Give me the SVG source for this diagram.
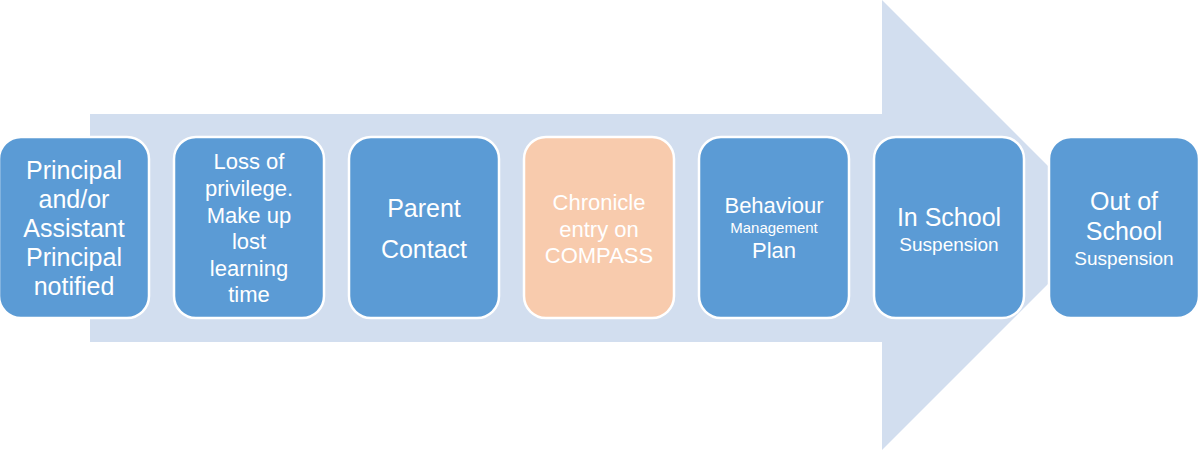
<svg xmlns="http://www.w3.org/2000/svg" width="1201" height="450" viewBox="0 0 1201 450">
<style>
.box{fill:#5B9BD5;stroke:#FFFFFF;stroke-width:2.5}
.hl{fill:#F8CBAD}
text{font-family:"Liberation Sans",Arial,sans-serif;fill:#FFFFFF;text-anchor:middle}
.l{font-size:25px}
.m{font-size:22px}
.s{font-size:19px}
.xs{font-size:15px}
</style>
<rect width="1201" height="450" fill="#FFFFFF"/>
<g id="arrow">
<polygon points="90,114 882,114 882,0 1107,225 882,450 882,342 90,342" fill="#D2DEEF"/>
</g>
<g id="connectors"></g>
<g id="n1">
<rect class="box" x="-1" y="137" width="150" height="181" rx="22"/>
<text class="l" x="74" y="179">Principal</text>
<text class="l" x="74" y="208">and/or</text>
<text class="l" x="74" y="237">Assistant</text>
<text class="l" x="74" y="266">Principal</text>
<text class="l" x="74" y="295">notified</text>
</g>
<g id="n2">
<rect class="box" x="174" y="137" width="150" height="181" rx="22"/>
<text class="m" x="249" y="169">Loss of</text>
<text class="m" x="249" y="196">privilege.</text>
<text class="m" x="249" y="223">Make up</text>
<text class="m" x="249" y="249">lost</text>
<text class="m" x="249" y="276">learning</text>
<text class="m" x="249" y="302">time</text>
</g>
<g id="n3">
<rect class="box" x="349" y="137" width="150" height="181" rx="22"/>
<text class="l" x="424" y="217">Parent</text>
<text class="l" x="424" y="258">Contact</text>
</g>
<g id="n4">
<rect class="box hl" x="524" y="137" width="150" height="181" rx="22"/>
<text class="m" x="599" y="210">Chronicle</text>
<text class="m" x="599" y="237">entry on</text>
<text class="m" x="599" y="263">COMPASS</text>
</g>
<g id="n5">
<rect class="box" x="699" y="137" width="150" height="181" rx="22"/>
<text class="m" x="774" y="213">Behaviour</text>
<text class="xs" x="774" y="233">Management</text>
<text class="m" x="774" y="258">Plan</text>
</g>
<g id="n6">
<rect class="box" x="874" y="137" width="150" height="181" rx="22"/>
<text class="l" x="949" y="226">In School</text>
<text class="s" x="949" y="251">Suspension</text>
</g>
<g id="n7">
<rect class="box" x="1049" y="137" width="150" height="181" rx="22"/>
<text class="l" x="1124" y="210">Out of</text>
<text class="l" x="1124" y="240">School</text>
<text class="s" x="1124" y="265">Suspension</text>
</g>
</svg>
